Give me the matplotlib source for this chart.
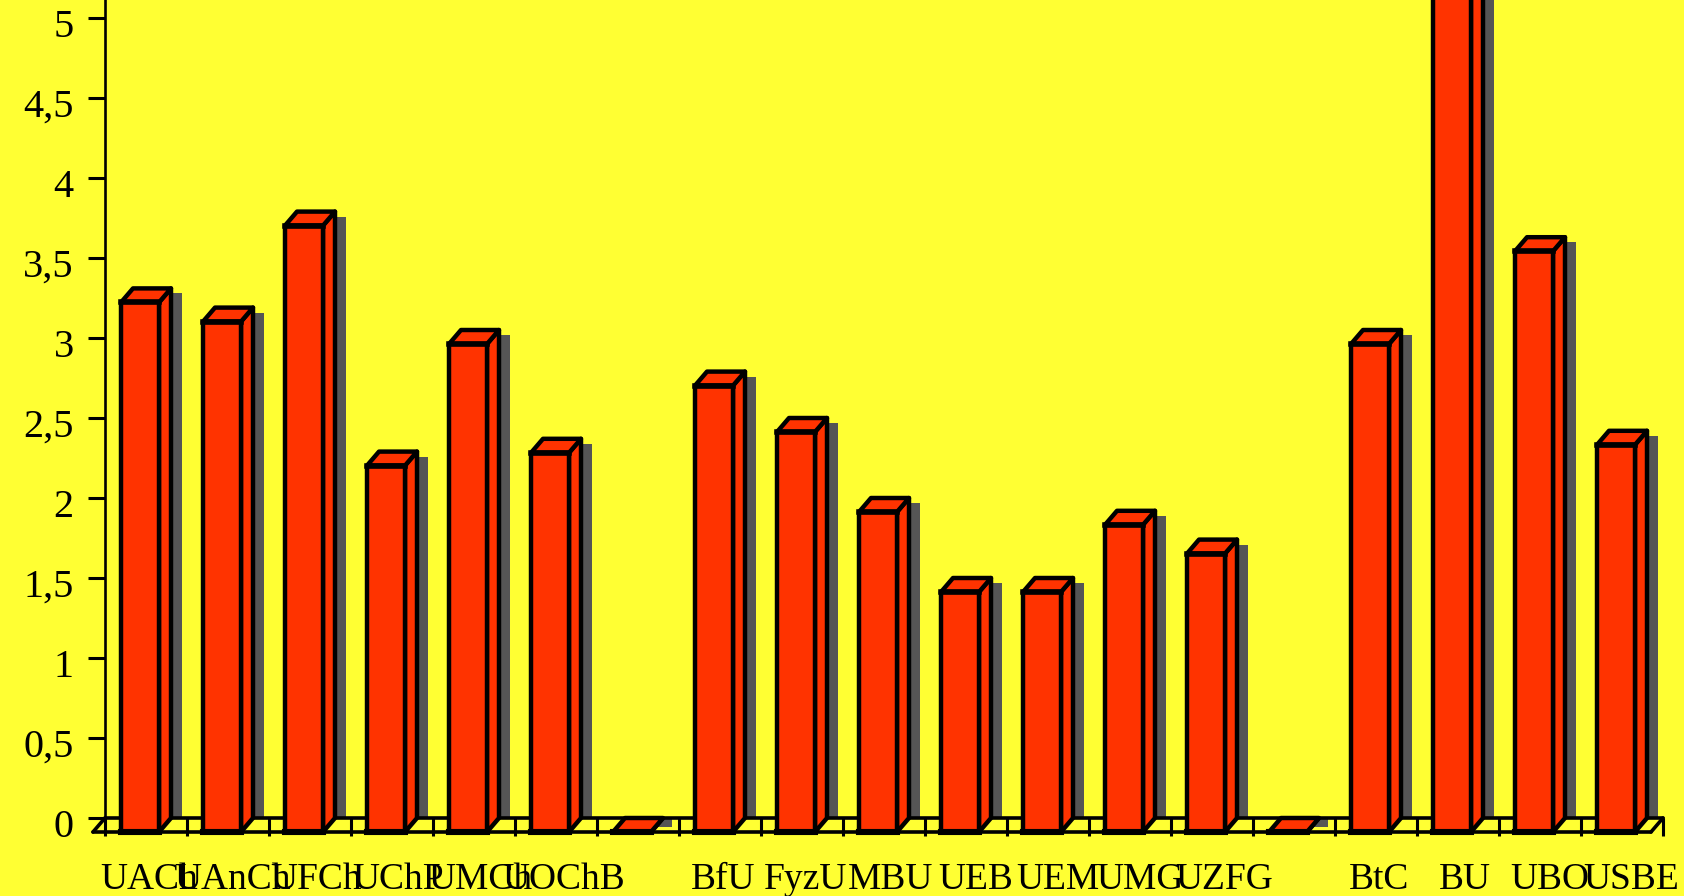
import matplotlib
matplotlib.use('Agg')
import matplotlib.pyplot as plt
from matplotlib.patches import Polygon
from matplotlib.transforms import ScaledTranslation

# Values
categories = ['UACh', 'UAnCh', 'UFCh', 'UChP', 'UMCh', 'UOChB', '',
              'BfU', 'FyzU', 'MBU', 'UEB', 'UEM', 'UMG', 'UZFG', '',
              'BtC', 'BU', 'UBO', 'USBE']
values = [3.31, 3.19, 3.79, 2.29, 3.05, 2.37, 0,
          2.79, 2.50, 2.00, 1.50, 1.50, 1.92, 1.74, 0,
          3.05, 5.50, 3.63, 2.42]
ytick_values = [0, 0.5, 1, 1.5, 2, 2.5, 3, 3.5, 4, 4.5, 5]
ytick_labels = ['0', '0,5', '1', '1,5', '2', '2,5', '3', '3,5', '4', '4,5', '5']
# the labels are not evenly spaced in the reference, nudge in pixels
label_nudge = [3, 4, 5, 5, 5, 6, 0, 0, 0, 3, 6, 5, 5, 7, 0, -3, 0, 3, 2]

YELLOW = '#FFFF33'
RED = '#FF3300'
GREY = '#555555'

plt.rcParams['font.family'] = ['Liberation Serif', 'DejaVu Serif']

W, H = 1684, 896
fig = plt.figure(figsize=(W / 100, H / 100), dpi=100, facecolor=YELLOW)
# x=0 sits at pixel 105, y=0 at pixel 818
ax = fig.add_axes([105 / W, (H - 818) / H, 82 * 19 / W, 818 / H], facecolor='none')
ax.set_xlim(0, 19)
ax.set_ylim(0, 818 / 160)

# pixel sizes in data units
px = 1 / 82
py = 1 / 160
dx = 12 * px
dy = 14 * py
lw = 3.2

# floor of the fake 3d box
floor = dict(color='black', lw=2.6, clip_on=False, zorder=2, solid_capstyle='round')
ax.plot([0, 19], [0, 0], **floor)
ax.plot([-dx, 19 - dx], [-dy, -dy], **floor)
ax.plot([0, -dx], [0, -dy], **floor)
ax.plot([19, 19 - dx], [0, -dy], **floor)

for i, v in enumerate(values):
    x0 = i + 16 * px          # front face left
    x1 = x0 + 38 * px         # front face right
    # shadow
    xr = x1 + dx
    if v > 0:
        shadow = [(xr, v - 5 * py), (xr + 11 * px, v - 5 * py), (xr + 11 * px, 0), (xr, 0)]
    else:
        shadow = [(xr - 2 * px, 0), (xr + 9 * px, 0), (xr + 9 * px, -9 * py), (xr - 8 * px, -9 * py)]
    ax.add_patch(Polygon(shadow, closed=True, fc=GREY, ec='none', clip_on=False, zorder=1))
    style = dict(closed=True, fc=RED, ec='black', lw=lw, joinstyle='round', clip_on=False, zorder=3)
    # right side
    ax.add_patch(Polygon([(x1, -dy), (xr, 0), (xr, v), (x1, v - dy)], **style))
    # top
    ax.add_patch(Polygon([(x0, v - dy), (x1, v - dy), (xr, v), (x0 + dx, v)], **style))
    # front
    ax.add_patch(Polygon([(x0, -dy), (x1, -dy), (x1, v - dy), (x0, v - dy)], **style))
    # heavier top and bottom edge on the front face
    ax.plot([x0, x1], [v - dy, v - dy], color='black', lw=4.0, clip_on=False, zorder=4)
    ax.plot([x0, x1], [-dy, -dy], color='black', lw=4.4, clip_on=False, zorder=4)

for s in ['top', 'right']:
    ax.spines[s].set_visible(False)
ax.spines['bottom'].set_visible(False)
ax.spines['left'].set_linewidth(1.9)

ax.set_yticks(ytick_values)
ax.set_yticklabels(ytick_labels, fontsize=29)
ax.tick_params(axis='y', length=12.5, width=2.2, pad=10)
for lab in ax.get_yticklabels():
    lab.set_transform(lab.get_transform() + ScaledTranslation(0, -5 / 100, fig.dpi_scale_trans))

# tick marks on the category boundaries, labels set separately
ax.set_xticks(range(20))
ax.set_xticklabels([])
ax.tick_params(axis='x', which='major', length=13, width=2.2)
ax.set_xticks([0.5 + i * 1.005 + n * px for i, n in enumerate(label_nudge)], minor=True)
ax.set_xticklabels(categories, minor=True, fontsize=27)
ax.tick_params(axis='x', which='minor', length=0, pad=32)

fig.savefig('out.png', dpi=100, facecolor=YELLOW)
